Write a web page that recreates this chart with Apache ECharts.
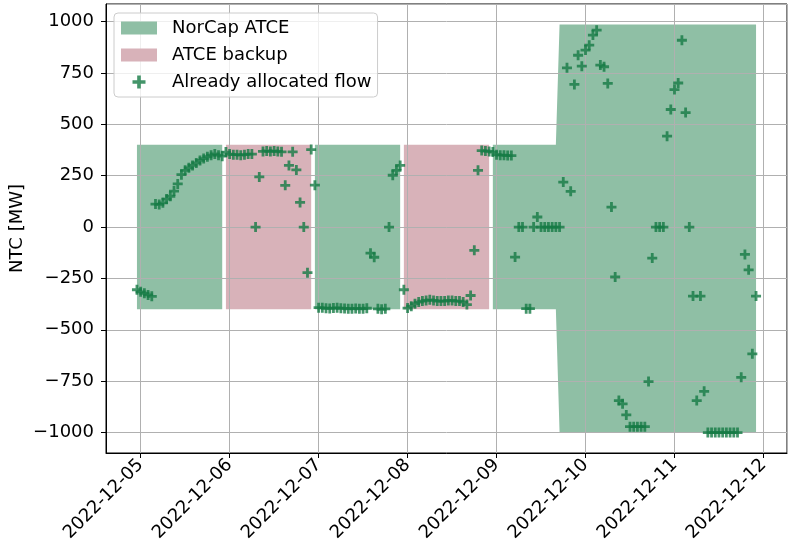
<!DOCTYPE html>
<html>
<head>
<meta charset="utf-8">
<script src="https://cdn.jsdelivr.net/npm/echarts@6/dist/echarts.min.js"></script>
<style>
html, body { margin: 0; padding: 0; background: #fff; }
#ntc { width: 790px; height: 553px; }
</style>
</head>
<body>
<div id="ntc"></div>
<script>
// hourly values, first hour 2022-12-04 23:00 UTC, one row per 24h block
var startTime = '2022-12-04T23:00:00Z';

var flowMW = [
  -305,-315,-322,-330,-337, 112, 110, 118, 136, 150, 175, 210, 255, 276, 288, 300, 312, 324, 333, 342, 350, 356, 350, 345,
   365, 355, 352, 352, 350, 352, 355, 355,   0, 244, 368, 370, 368, 370, 368, 366, 203, 300, 366, 278, 120,   0,-222, 377,
   204,-392,-393,-395,-396,-394,-393,-395,-396,-398,-397,-396,-398,-397,-395,-127,-147,-398,-400,-398,   0, 252, 276, 300,
  -305,-394,-385,-373,-365,-360,-357,-354,-357,-360,-360,-360,-357,-357,-360,-360,-365,-377,-333,-113, 276, 372, 370, 368,
   365, 352, 350, 350, 348, 348,-146,   0,   0,-397,-397,   0,  49,   0,   0,   0,   0,   0,   0, 219, 775, 174, 694, 836,
   783, 861, 885, 934, 958, 788, 780, 699,  97,-243,-844,-860,-914,-971,-971,-971,-971,-971,-752,-151,   0,   0,   0, 442,
   572, 669, 701, 909, 557,   0,-336,-844,-336,-799,-1000,-1000,-1000,-1000,-1000,-1000,-1000,-1000,-1000,-731,-133,-208,-617,-336
];

var upperMW = [
  400,400,400,400,400,400,400,400,400,400,400,400,400,400,400,400,400,400,400,400,400,400,400,400,
  400,400,400,400,400,400,400,400,400,400,400,400,400,400,400,400,400,400,400,400,400,400,400,400,
  400,400,400,400,400,400,400,400,400,400,400,400,400,400,400,400,400,400,400,400,400,400,400,400,
  400,400,400,400,400,400,400,400,400,400,400,400,400,400,400,400,400,400,400,400,400,400,400,400,
  400,400,400,400,400,400,400,400,400,400,400,400,400,400,400,400,400,400,986,986,986,986,986,986,
  986,986,986,986,986,986,986,986,986,986,986,986,986,986,986,986,986,986,986,986,986,986,986,986,
  986,986,986,986,986,986,986,986,986,986,986,986,986,986,986,986,986,986,986,986,986,986,986,986
];

var lowerMW = [
  -400,-400,-400,-400,-400,-400,-400,-400,-400,-400,-400,-400,-400,-400,-400,-400,-400,-400,-400,-400,-400,-400,-400,-400,
  -400,-400,-400,-400,-400,-400,-400,-400,-400,-400,-400,-400,-400,-400,-400,-400,-400,-400,-400,-400,-400,-400,-400,-400,
  -400,-400,-400,-400,-400,-400,-400,-400,-400,-400,-400,-400,-400,-400,-400,-400,-400,-400,-400,-400,-400,-400,-400,-400,
  -400,-400,-400,-400,-400,-400,-400,-400,-400,-400,-400,-400,-400,-400,-400,-400,-400,-400,-400,-400,-400,-400,-400,-400,
  -400,-400,-400,-400,-400,-400,-400,-400,-400,-400,-400,-400,-400,-400,-400,-400,-400,-400,-1000,-1000,-1000,-1000,-1000,-1000,
  -1000,-1000,-1000,-1000,-1000,-1000,-1000,-1000,-1000,-1000,-1000,-1000,-1000,-1000,-1000,-1000,-1000,-1000,-1000,-1000,-1000,-1000,-1000,-1000,
  -1000,-1000,-1000,-1000,-1000,-1000,-1000,-1000,-1000,-1000,-1000,-1000,-1000,-1000,-1000,-1000,-1000,-1000,-1000,-1000,-1000,-1000,-1000,-1000
];

// which capacity source each 24h block comes from
var blockSource = ['NorCap ATCE', 'ATCE backup', 'NorCap ATCE', 'ATCE backup', 'NorCap ATCE', 'NorCap ATCE', 'NorCap ATCE'];

var GREEN = '#8fbfa5';
var PINK = '#d8b2b9';
var MARK = '#157a45';
var FONT = 'DejaVu Sans';
var FS = 18;
var PLUS = 'path://M3.6,0H6.4V3.6H10V6.4H6.4V10H3.6V6.4H0V3.6H3.6Z';

var HOUR = 3600 * 1000;
var t0 = Date.parse(startTime);
var times = flowMW.map(function (v, i) { return t0 + i * HOUR; });

// matplotlib style 5% margins
var xPad = (times[times.length - 1] - times[0]) * 0.05;
var yLo = Math.min.apply(null, lowerMW.concat(flowMW));
var yHi = Math.max.apply(null, upperMW.concat(flowMW));
var yPad = (yHi - yLo) * 0.05;

// every band spans zero, so fill upper->0 and lower->0 with the same colour
function bandSeries(name, color) {
  var up = [], low = [];
  for (var i = 0; i < times.length; i++) {
    var on = blockSource[Math.floor(i / 24)] === name;
    up.push([times[i], on ? upperMW[i] : '-']);
    low.push([times[i], on ? lowerMW[i] : '-']);
  }
  return [up, low].map(function (d) {
    return {
      name: name, type: 'line', data: d, symbol: 'none', silent: true,
      color: color, z: 2,
      lineStyle: { width: 0, opacity: 0 },
      areaStyle: { color: color, opacity: 1, origin: 0 }
    };
  });
}

var myChart = echarts.init(document.getElementById('ntc'));

var option = {
  animation: false,
  textStyle: { fontFamily: FONT },
  grid: {
    left: 106, right: 3, top: 4, bottom: 100,
    containLabel: false,
    outerBoundsMode: 'none',
    show: true, borderColor: '#000', borderWidth: 1
  },
  legend: {
    left: 114, top: 13, orient: 'vertical',
    itemWidth: 36, itemHeight: 13, itemGap: 9,
    padding: [6, 6, 6, 7],
    borderColor: '#cccccc', borderWidth: 1, borderRadius: 4,
    backgroundColor: 'rgba(255,255,255,0.8)',
    textStyle: { fontFamily: FONT, fontSize: FS, color: '#000', padding: [0, 0, 0, 10] },
    data: [
      { name: 'NorCap ATCE', icon: 'rect' },
      { name: 'ATCE backup', icon: 'rect' },
      { name: 'Already allocated flow', icon: PLUS }
    ]
  },
  xAxis: {
    type: 'value',
    z: 3,
    min: times[0] - xPad,
    max: times[times.length - 1] + xPad,
    minInterval: 24 * HOUR,
    maxInterval: 24 * HOUR,
    axisLine: { show: true, onZero: false, lineStyle: { color: '#000' } },
    axisTick: { show: true, length: 5, lineStyle: { color: '#000' } },
    splitLine: { show: true, lineStyle: { color: '#b0b0b0', width: 1 } },
    axisLabel: {
      rotate: 45, margin: 9, fontSize: FS, color: '#000', fontFamily: FONT,
      showMinLabel: false, showMaxLabel: false,
      formatter: function (v) { return new Date(v).toISOString().slice(0, 10); }
    }
  },
  yAxis: {
    type: 'value',
    z: 3,
    min: yLo - yPad,
    max: yHi + yPad,
    minInterval: 250,
    maxInterval: 250,
    name: 'NTC [MW]',
    nameLocation: 'middle',
    nameGap: 80,
    nameMoveOverlap: false,
    nameTextStyle: { fontSize: FS, color: '#000', fontFamily: FONT },
    axisLine: { show: true, onZero: false, lineStyle: { color: '#000' } },
    axisTick: { show: true, length: 5, lineStyle: { color: '#000' } },
    splitLine: { show: true, lineStyle: { color: '#b0b0b0', width: 1 } },
    axisLabel: {
      margin: 12, fontSize: FS, color: '#000', fontFamily: FONT,
      showMinLabel: false, showMaxLabel: false,
      formatter: function (v) { return String(v).replace('-', '\u2212'); }
    }
  },
  series: bandSeries('NorCap ATCE', GREEN)
    .concat(bandSeries('ATCE backup', PINK))
    .concat([{
      name: 'Already allocated flow',
      type: 'scatter',
      symbol: PLUS,
      symbolSize: 10,
      color: MARK,
      z: 5,
      data: flowMW.map(function (v, i) { return [times[i], v]; })
    }])
};

myChart.setOption(option);
</script>
</body>
</html>
